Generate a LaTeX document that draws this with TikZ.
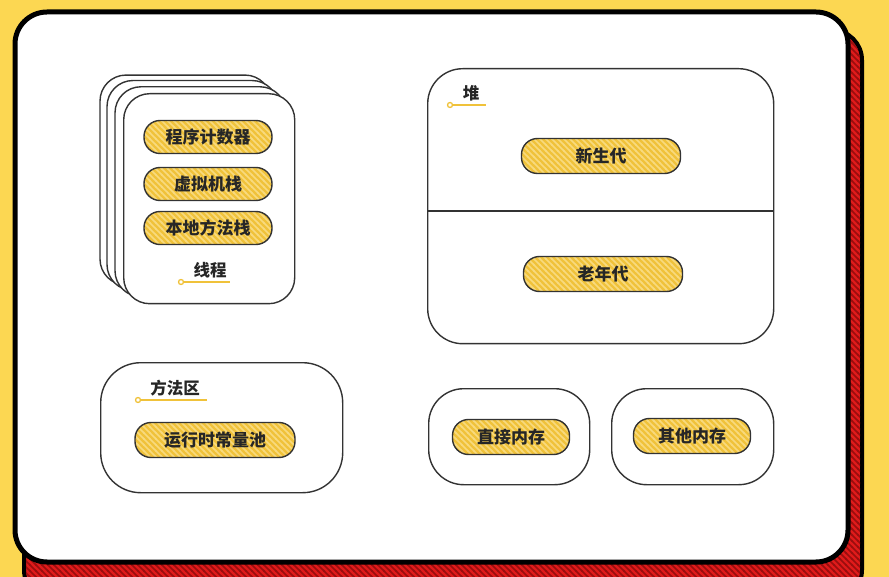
\documentclass[tikz,border=0pt]{standalone}
\usepackage{fontspec}
\setmainfont{Noto Sans CJK SC}
\usetikzlibrary{patterns}
\definecolor{bgyellow}{HTML}{FCD752}
\definecolor{pillyellow}{HTML}{F0C23A}
\definecolor{stripe}{HTML}{F8DA7E}
\definecolor{shadowred}{HTML}{E01B1B}
\definecolor{shadowstripe}{HTML}{9A0E0E}
\definecolor{boxline}{HTML}{333333}
\pgfdeclarepatternformonly{widestripes}{\pgfqpoint{-1pt}{-1pt}}{\pgfqpoint{7pt}{7pt}}{\pgfqpoint{6pt}{6pt}}{%
  \pgfsetlinewidth{1.6pt}
  \pgfpathmoveto{\pgfqpoint{-1pt}{7pt}}
  \pgfpathlineto{\pgfqpoint{7pt}{-1pt}}
  \pgfusepath{stroke}}
\tikzset{
  box/.style={draw=boxline, line width=1.4pt, fill=white},
  pill/.style={draw=boxline, line width=1.4pt, rounded corners=16pt,
     preaction={fill=pillyellow}, pattern=widestripes, pattern color=stripe},
  pilltext/.style={font=\fontsize{17}{17}\selectfont\bfseries, text=black!85},
  lbl/.style={font=\fontsize{16.5}{17}\selectfont\bfseries, text=black!85},
  uline/.style={draw=pillyellow, line width=1.8pt},
}
\begin{document}
\begin{tikzpicture}[x=1pt,y=-1pt]
\useasboundingbox (0,0) rectangle (889,577);
\fill[bgyellow] (0,0) rectangle (889,577);
% red shadow
\draw[line width=4pt, fill=shadowred, rounded corners=30pt] (24,30) rectangle (862,600);
\fill[pattern=widestripes, pattern color=shadowstripe] (26,32) [rounded corners=28pt] rectangle (860,598);
% main card
\draw[line width=5pt, fill=white, rounded corners=32pt] (15,12) rectangle (848,562);
% thread stack
\foreach \d in {23,16,8} {
  \draw[box, rounded corners=26pt] (123-\d,93-\d*0.78) rectangle (294-\d,303-\d*0.78);
}
\node[box, rounded corners=26pt, minimum width=171pt, minimum height=210pt, anchor=north west] (thread) at (123,93) {};
\node[pill, minimum width=128pt, minimum height=33pt] (pc) at (208,137) {};
\node[pilltext] at (pc) {程序计数器};
\node[pill, minimum width=128pt, minimum height=33pt] (vms) at (208,184) {};
\node[pilltext] at (vms) {虚拟机栈};
\node[pill, minimum width=128pt, minimum height=33pt] (nms) at (208,228) {};
\node[pilltext] at (nms) {本地方法栈};
\node[lbl] (threadlbl) at (210,270) {线程};
\draw[uline] (183,282) -- (230,282);
\draw[draw=pillyellow, line width=1.3pt, fill=white] (181,282) circle (2.5pt);
% heap
\node[box, rounded corners=35pt, minimum width=346pt, minimum height=275pt, anchor=north west] (heap) at (427,68) {};
\draw[boxline, line width=1.4pt] (heap.west |- 0,211) -- (heap.east |- 0,211);
\node[lbl] (heaplbl) at (471,93) {堆};
\draw[uline] (452,105) -- (486,105);
\draw[draw=pillyellow, line width=1.3pt, fill=white] (450,105) circle (2.5pt);
\node[pill, minimum width=159pt, minimum height=35pt] (young) at (601,156) {};
\node[pilltext] at (young) {新生代};
\node[pill, minimum width=159pt, minimum height=35pt] (old) at (603,274) {};
\node[pilltext] at (old) {老年代};
% method area
\node[box, rounded corners=40pt, minimum width=242pt, minimum height=130pt, anchor=north west] (method) at (100,362) {};
\node[lbl] (methodlbl) at (175,388) {方法区};
\draw[uline] (140,400) -- (207,400);
\draw[draw=pillyellow, line width=1.3pt, fill=white] (138,400) circle (2.5pt);
\node[pill, minimum width=160pt, minimum height=35pt] (pool) at (215,440) {};
\node[pilltext] at (pool) {运行时常量池};
% direct memory
\node[box, rounded corners=35pt, minimum width=161pt, minimum height=96pt, anchor=north west] (direct) at (428,388) {};
\node[pill, minimum width=117pt, minimum height=35pt] (dm) at (511,437) {};
\node[pilltext] at (dm) {直接内存};
% other memory
\node[box, rounded corners=35pt, minimum width=162pt, minimum height=96pt, anchor=north west] (other) at (611,388) {};
\node[pill, minimum width=117pt, minimum height=35pt] (om) at (692,436) {};
\node[pilltext] at (om) {其他内存};
\end{tikzpicture}
\end{document}
